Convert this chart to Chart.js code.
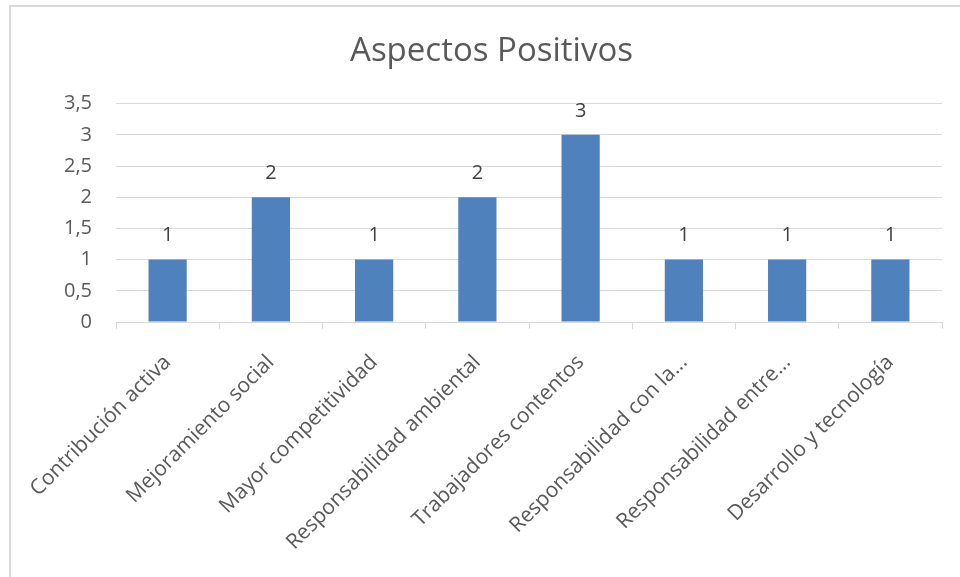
<!DOCTYPE html>
<html>
<head>
<meta charset="utf-8">
<script src="https://cdn.jsdelivr.net/npm/chart.js@4"></script>
<style>
  body { margin: 0; background: #fff; }
  #frame {
    position: absolute; left: 9px; top: 5px;
    width: 951px; height: 572px;
    border-top: 2px solid #d9d9d9; border-left: 2px solid #d9d9d9;
  }
  canvas { display: block; }
</style>
</head>
<body>
<div id="frame"><canvas id="chart" width="949" height="570"></canvas></div>
<script>
// Data
const categories = [
  "Contribución activa",
  "Mejoramiento social",
  "Mayor competitividad",
  "Responsabilidad ambiental",
  "Trabajadores contentos",
  "Responsabilidad con la...",
  "Responsabilidad entre...",
  "Desarrollo y tecnología"
];
const values = [1, 2, 1, 2, 3, 1, 1, 1];
const yTicks = [0, 0.5, 1, 1.5, 2, 2.5, 3, 3.5];

const FONT = "'Open Sans', sans-serif";

// labels above each bar
const valueLabels = {
  id: "valueLabels",
  afterDatasetsDraw(chart) {
    const ctx = chart.ctx;
    const meta = chart.getDatasetMeta(0);
    ctx.save();
    ctx.font = "20px " + FONT;
    ctx.fillStyle = "#404040";
    ctx.textAlign = "center";
    ctx.textBaseline = "middle";
    meta.data.forEach((bar, i) => {
      ctx.fillText(String(values[i]), bar.x, bar.y - 24);
    });
    ctx.restore();
  }
};

new Chart(document.getElementById("chart"), {
  type: "bar",
  data: {
    labels: categories,
    datasets: [{
      data: values,
      backgroundColor: "#4f81bd",
      categoryPercentage: 1,
      barPercentage: 0.37
    }]
  },
  options: {
    responsive: false,
    animation: false,
    layout: { padding: { left: 30, right: 18, top: 0, bottom: 0 } },
    plugins: {
      legend: { display: false },
      tooltip: { enabled: false },
      title: {
        display: true,
        text: "Aspectos Positivos",
        color: "#595959",
        font: { family: FONT, size: 33, weight: "normal" },
        padding: { top: 25, bottom: 32 }
      }
    },
    scales: {
      x: {
        afterFit(scale) {
          scale.height = 255;
          scale.paddingLeft = 0;
          scale.paddingRight = 0;
        },
        border: { color: "#d9d9d9", width: 1 },
        grid: { drawOnChartArea: false, drawTicks: true, tickLength: 7, color: "#d9d9d9", offset: true },
        ticks: {
          color: "#595959",
          font: { family: FONT, size: 21 },
          minRotation: 45,
          maxRotation: 45,
          autoSkip: false,
          padding: 21
        }
      },
      y: {
        min: 0,
        max: 3.5,
        afterFit(scale) { scale.width = 75; },
        afterBuildTicks(scale) { scale.ticks = yTicks.map(v => ({ value: v })); },
        border: { display: false },
        grid: { color: "#d9d9d9", drawTicks: false, lineWidth: 1 },
        ticks: {
          color: "#595959",
          font: { family: FONT, size: 20 },
          padding: 24,
          callback: v => String(v).replace(".", ",")
        }
      }
    }
  },
  plugins: [valueLabels]
});
</script>
</body>
</html>
